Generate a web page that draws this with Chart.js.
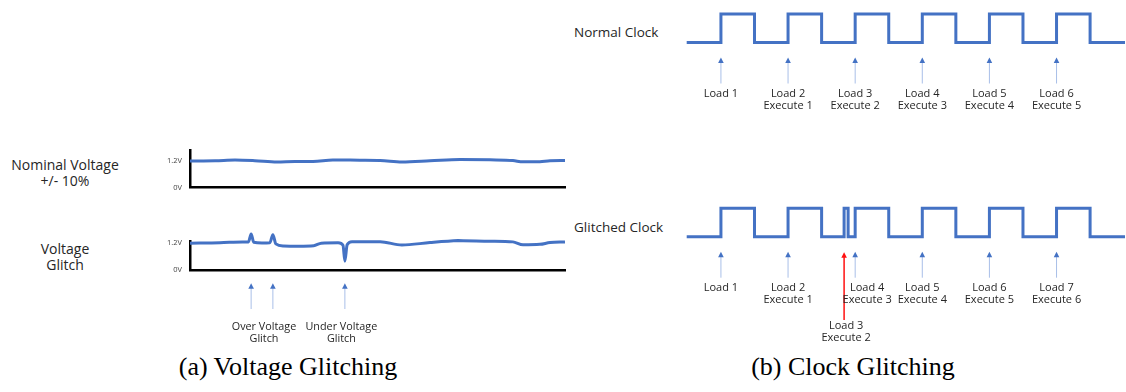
<!DOCTYPE html>
<html>
<head>
<meta charset="utf-8">
<script src="https://cdn.jsdelivr.net/npm/chart.js@4.4.1/dist/chart.umd.min.js"></script>
<style>
  body { margin: 0; width: 1126px; height: 392px; background: #fff; position: relative; overflow: hidden; font-family: "Open Sans", sans-serif; }
  canvas { position: absolute; }
  .lbl { position: absolute; color: #262626; text-align: center; white-space: nowrap; }
  .name { position: absolute; color: #262626; white-space: nowrap; font-size: 13.5px; }
  .cap { position: absolute; top: 350px; font-family: "Liberation Serif", "Times New Roman", serif; font-size: 26px; line-height: 34px; color: #000; white-space: nowrap; transform: translateX(-50%); }
</style>
</head>
<body>
<div class="lbl" style="left:0;width:130px;top:157px;font-size:14px;line-height:16px">Nominal Voltage<br>+/- 10%</div>
<div class="lbl" style="left:0;width:130px;top:241px;font-size:14px;line-height:16px">Voltage<br>Glitch</div>
<div class="name" style="left:574px;top:23px">Normal Clock</div>
<div class="name" style="left:574px;top:218px">Glitched Clock</div>

<canvas id="vNominal" width="450" height="65" style="left:130px;top:135px"></canvas>
<canvas id="vGlitch" width="450" height="120" style="left:130px;top:225px"></canvas>
<canvas id="cNormal" width="446" height="120" style="left:680px;top:0"></canvas>
<canvas id="cGlitch" width="446" height="155" style="left:680px;top:190px"></canvas>

<div class="cap" style="left:288px">(a) Voltage Glitching</div>
<div class="cap" style="left:853px">(b) Clock Glitching</div>

<script>
// ---- Supply voltage traces (time in arbitrary units 0..100, volts) ----
const nominalTime = [0, 6.7, 12, 17.3, 23.2, 28, 32.8, 38.1, 45.3, 50.7, 56.5, 64, 72, 80, 86.1, 88.8, 93.3, 96, 100];
const nominalVolts = [1.19, 1.2, 1.24, 1.21, 1.15, 1.17, 1.17, 1.24, 1.23, 1.22, 1.15, 1.2, 1.26, 1.245, 1.215, 1.155, 1.165, 1.21, 1.22];

const glitchTime = [0, 8, 14, 15.6, 16.3, 17.0, 19.2, 21.3, 22.1, 22.9, 25, 29, 33, 35, 39.5, 40.8, 41.3, 41.9, 43.2, 50.7, 56.5, 64, 71.5, 80, 86.1, 88.8, 93.3, 96, 100];
const glitchVolts = [1.19, 1.21, 1.25, 1.25, 1.6, 1.23, 1.2, 1.21, 1.57, 1.16, 1.07, 1.06, 1.08, 1.19, 1.21, 1.1, 0.39, 1.12, 1.26, 1.26, 1.11, 1.22, 1.31, 1.28, 1.25, 1.12, 1.14, 1.22, 1.25];

const voltTicks = [0, 1.2];
const voltTickLabels = ['0V', '1.2V'];

// spikes marked below the glitched trace
const overGlitchAt = [16.3, 22.1];
const underGlitchAt = [41.3];

// ---- Clock waveforms: edge time (clock periods) and level after the edge ----
const normalEdges = [-0.51, 0, 0.5, 1, 1.5, 2, 2.5, 3, 3.5, 4, 4.5, 5, 5.5, 6.02];
const normalLevels = [0, 1, 0, 1, 0, 1, 0, 1, 0, 1, 0, 1, 0, 0];

const glitchEdges = [-0.51, 0, 0.5, 1, 1.5, 1.835, 1.895, 2, 2.5, 3, 3.5, 4, 4.5, 5, 5.5, 6.02];
const glitchLevels = [0, 1, 0, 1, 0, 1, 0, 1, 0, 1, 0, 1, 0, 1, 0, 0];

// rising edges that latch an instruction
const normalLatch = [0, 1, 2, 3, 4, 5];
const normalLatchText = [['Load 1'], ['Load 2', 'Execute 1'], ['Load 3', 'Execute 2'], ['Load 4', 'Execute 3'], ['Load 5', 'Execute 4'], ['Load 6', 'Execute 5']];

const glitchLatch = [0, 1, 2, 3, 4, 5];
const glitchLatchText = [['Load 1'], ['Load 2', 'Execute 1'], ['Load 4', 'Execute 3'], ['Load 5', 'Execute 4'], ['Load 6', 'Execute 5'], ['Load 7', 'Execute 6']];
const extraLatch = [1.835];
const extraLatchText = [['Load 3', 'Execute 2']];

const BLUE = '#4472C4';
const SHAFT = '#a9bfe8';
const RED = '#ff1010';

// Arrows with captions hanging under the plot area
const arrowMarks = {
  id: 'arrowMarks',
  afterDatasetsDraw(chart, args, opts) {
    const { ctx, chartArea, scales } = chart;
    const base = chartArea.bottom;
    ctx.save();
    ctx.font = opts.font;
    ctx.textAlign = 'center';
    ctx.textBaseline = 'middle';
    (opts.items || []).forEach(it => {
      const px = scales.x.getPixelForValue(it.at);
      const tip = base + it.tip;
      const tail = base + it.tail;
      ctx.strokeStyle = it.shaft;
      ctx.lineWidth = it.width || 1;
      ctx.beginPath();
      ctx.moveTo(px, tip + 4);
      ctx.lineTo(px, tail);
      ctx.stroke();
      ctx.fillStyle = it.head;
      ctx.beginPath();
      ctx.moveTo(px, tip);
      ctx.lineTo(px - 2.8, tip + 5.5);
      ctx.lineTo(px + 2.8, tip + 5.5);
      ctx.closePath();
      ctx.fill();
    });
    ctx.fillStyle = opts.textColor;
    (opts.texts || []).forEach(t => {
      const px = scales.x.getPixelForValue(t.at) + (t.dx || 0);
      t.lines.forEach((s, i) => ctx.fillText(s, px, base + t.y + i * opts.lineGap));
    });
    ctx.restore();
  }
};

Chart.defaults.font.family = '"Open Sans", sans-serif';
Chart.defaults.animation = false;

function voltChart(id, xs, ys, yMax, pad, marks) {
  return new Chart(document.getElementById(id), {
    type: 'line',
    data: {
      datasets: [{
        data: xs.map((t, i) => ({ x: t, y: ys[i] })),
        borderColor: BLUE,
        borderWidth: 3,
        pointRadius: 0,
        cubicInterpolationMode: 'monotone',
        clip: false
      }]
    },
    options: {
      responsive: false,
      devicePixelRatio: 1,
      layout: { padding: pad },
      plugins: { legend: { display: false }, tooltip: { enabled: false }, arrowMarks: marks },
      scales: {
        x: {
          type: 'linear', min: 0, max: 100,
          ticks: { display: false },
          grid: { display: false, drawTicks: false },
          border: { display: true, color: '#000', width: 2.5 },
          afterFit(s) { s.height = 0; }
        },
        y: {
          min: 0, max: yMax,
          afterBuildTicks(s) { s.ticks = voltTicks.map(v => ({ value: v })); },
          ticks: {
            callback: (v, i) => voltTickLabels[i],
            font: { size: 7.5 },
            color: '#444',
            padding: 8
          },
          grid: { display: false, drawTicks: false },
          border: { display: true, color: '#000', width: 2.5 },
          afterFit(s) { s.width = 60; }
        }
      }
    },
    plugins: [arrowMarks]
  });
}

voltChart('vNominal', nominalTime, nominalVolts, 1.69,
  { left: 0, right: 15, top: 15, bottom: 12 }, { items: [], texts: [] });

voltChart('vGlitch', glitchTime, glitchVolts, 1.289,
  { left: 0, right: 15, top: 16, bottom: 75 },
  {
    font: '10.8px "Open Sans", sans-serif',
    textColor: '#262626',
    lineGap: 12.5,
    items: overGlitchAt.concat(underGlitchAt).map(t => ({ at: t, tip: 13.3, tail: 39, shaft: SHAFT, head: BLUE, width: 1 })),
    texts: [
      { at: (overGlitchAt[0] + overGlitchAt[1]) / 2, dx: 2, y: 56.7, lines: ['Over Voltage', 'Glitch'] },
      { at: underGlitchAt[0], dx: -3.5, y: 56.7, lines: ['Under Voltage', 'Glitch'] }
    ]
  });

function clockChart(id, edges, levels, pad, marks) {
  return new Chart(document.getElementById(id), {
    type: 'line',
    data: {
      datasets: [{
        data: edges.map((t, i) => ({ x: t, y: levels[i] })),
        borderColor: BLUE,
        borderWidth: 3,
        pointRadius: 0,
        stepped: 'before',
        clip: false
      }]
    },
    options: {
      responsive: false,
      devicePixelRatio: 1,
      layout: { padding: pad },
      plugins: { legend: { display: false }, tooltip: { enabled: false }, arrowMarks: marks },
      scales: {
        x: { type: 'linear', min: -0.51, max: 6.02, display: false },
        y: { min: 0, max: 1, display: false }
      }
    },
    plugins: [arrowMarks]
  });
}

const clockFont = '11px "Open Sans", sans-serif';

clockChart('cNormal', normalEdges, normalLevels,
  { left: 6.7, right: 1, top: 14, bottom: 77.5 },
  {
    font: clockFont, textColor: '#262626', lineGap: 11.7,
    items: normalLatch.map(t => ({ at: t, tip: 15, tail: 41, shaft: SHAFT, head: BLUE, width: 1 })),
    texts: normalLatch.map((t, i) => ({ at: t, y: 51.5, lines: normalLatchText[i] }))
  });

clockChart('cGlitch', glitchEdges, glitchLevels,
  { left: 6.7, right: 1, top: 18.3, bottom: 108.3 },
  {
    font: clockFont, textColor: '#262626', lineGap: 11.7,
    items: glitchLatch.map(t => ({ at: t, tip: 15, tail: 41, shaft: SHAFT, head: BLUE, width: 1 }))
      .concat(extraLatch.map(t => ({ at: t, tip: 15.5, tail: 83.3, shaft: RED, head: RED, width: 1.5 }))),
    texts: glitchLatch.map((t, i) => ({ at: t, dx: i === 2 ? 12 : 0, y: 51.6, lines: glitchLatchText[i] }))
      .concat(extraLatch.map((t, i) => ({ at: t, dx: 2, y: 89.3, lines: extraLatchText[i] })))
  });
</script>
</body>
</html>
